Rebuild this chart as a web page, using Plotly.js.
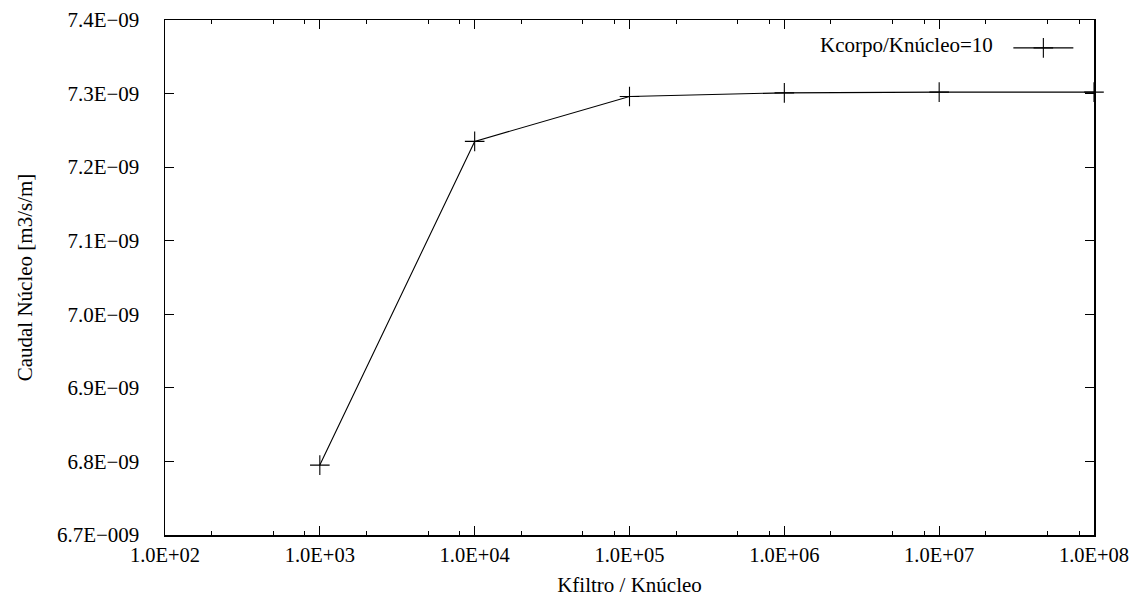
<!DOCTYPE html>
<html><head><meta charset="utf-8">
<script src="https://cdn.plot.ly/plotly-3.0.1.min.js"></script>
<style>body{margin:0;background:#fff}#c{width:1130px;height:597px}</style>
</head><body><div id="c"></div>
<script>
const kRatio = [1e3, 1e4, 1e5, 1e6, 1e7, 1e8];
const caudal = [6.795e-9, 7.235e-9, 7.296e-9, 7.301e-9, 7.302e-9, 7.302e-9];
const seriesName = "Kcorpo/Knúcleo=10";
const xTickVals = [1e2, 1e3, 1e4, 1e5, 1e6, 1e7, 1e8];
const xTickText = ["1.0E+02","1.0E+03","1.0E+04","1.0E+05","1.0E+06","1.0E+07","1.0E+08"];
const xMinorVals = [2e2,5e2,8e2,2e3,5e3,8e3,2e4,5e4,8e4,2e5,5e5,8e5,2e6,5e6,8e6,2e7,5e7,8e7];
const yTickVals = [6.7e-9, 6.8e-9, 6.9e-9, 7.0e-9, 7.1e-9, 7.2e-9, 7.3e-9, 7.4e-9];
const yTickText = ["6.7E\u2212009","6.8E\u221209","6.9E\u221209","7.0E\u221209","7.1E\u221209","7.2E\u221209","7.3E\u221209","7.4E\u221209"];

const font = {family: "Liberation Serif, Times New Roman, serif", size: 21, color: "#000"};
const xFont = {family: "Liberation Serif, Times New Roman, serif", size: 20.5, color: "#000"};
const trace = {
  x: kRatio, y: caudal, type: "scatter", mode: "lines+markers",
  name: " ", showlegend: true,
  line: {color: "#000", width: 1.1},
  marker: {symbol: "cross-thin", size: 14, line: {color: "#000", width: 1.1}, color: "#000"},
  cliponaxis: false
};
const layout = {
  width: 1130, height: 597,
  margin: {l: 165, r: 36, t: 20, b: 62},
  paper_bgcolor: "#fff", plot_bgcolor: "#fff",
  font: font,
  showlegend: true,
  legend: {x: 0.995, y: 0.985, xanchor: "right", yanchor: "top", bgcolor: "rgba(0,0,0,0)", font: font, itemwidth: 60},
  annotations: [{
    text: seriesName, xref: "paper", yref: "paper", x: 0.893, y: 0.952,
    xanchor: "right", yanchor: "middle", showarrow: false, font: font
  }],
  xaxis: {
    type: "log", range: [2, 8], tickmode: "array", tickvals: xTickVals, ticktext: xTickText,
    ticks: "inside", ticklen: 9, tickwidth: 1, tickcolor: "#000",
    showline: true, linecolor: "#000", linewidth: 1.5, mirror: "ticks",
    showgrid: false, zeroline: false, ticklabelstandoff: 1, ticklabeloverflow: "allow",
    minor: {tickmode: "array", tickvals: xMinorVals, ticks: "inside", ticklen: 4, tickcolor: "#000", showgrid: false},
    tickfont: xFont,
    title: {text: "Kfiltro / Knúcleo", font: font, standoff: 14}
  },
  yaxis: {
    range: [6.7e-9, 7.4e-9], tickmode: "array", tickvals: yTickVals, ticktext: yTickText,
    ticks: "inside", ticklen: 9, tickwidth: 1, tickcolor: "#000",
    showline: true, linecolor: "#000", linewidth: 1.5, mirror: "ticks",
    showgrid: false, zeroline: false, ticklabelstandoff: 20,
    tickfont: font,
    title: {text: "Caudal Núcleo [m3/s/m]", font: font, standoff: 18}
  }
};
Plotly.newPlot("c", [trace], layout, {staticPlot: true});
</script></body></html>
